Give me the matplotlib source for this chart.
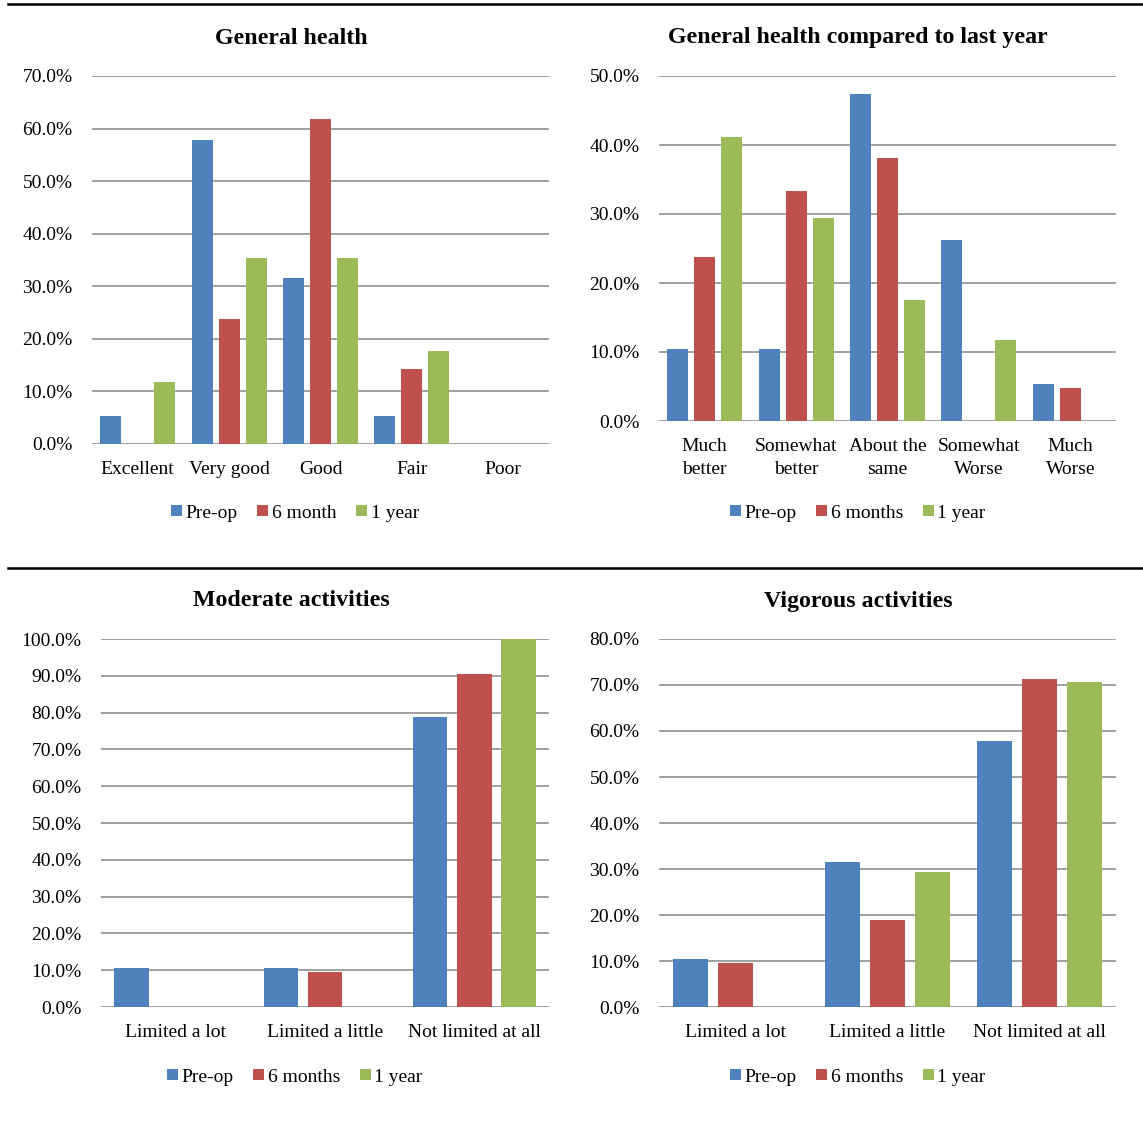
import matplotlib
matplotlib.use("Agg")
import matplotlib.pyplot as plt
from matplotlib.lines import Line2D
from matplotlib.patches import Patch
from matplotlib.ticker import FuncFormatter, MultipleLocator

plt.rcParams["font.family"] = ["Liberation Serif", "DejaVu Serif"]

# Survey responses (% of respondents) at each time point
health_cats = ["Excellent", "Very good", "Good", "Fair", "Poor"]
health_preop = [5.3, 57.9, 31.6, 5.3, 0.0]
health_6m = [0.0, 23.8, 61.9, 14.3, 0.0]
health_1y = [11.8, 35.3, 35.3, 17.6, 0.0]

compare_cats = ["Much\nbetter", "Somewhat\nbetter", "About the\nsame", "Somewhat\nWorse", "Much\nWorse"]
compare_preop = [10.5, 10.5, 47.4, 26.3, 5.3]
compare_6m = [23.8, 33.3, 38.1, 0.0, 4.8]
compare_1y = [41.2, 29.4, 17.6, 11.8, 0.0]

activity_cats = ["Limited a lot", "Limited a little", "Not limited at all"]
moderate_preop = [10.5, 10.5, 78.9]
moderate_6m = [0.0, 9.5, 90.5]
moderate_1y = [0.0, 0.0, 100.0]

vigorous_preop = [10.5, 31.6, 57.9]
vigorous_6m = [9.5, 19.0, 71.4]
vigorous_1y = [0.0, 29.4, 70.6]

COLORS = ["#4F81BD", "#C0504D", "#9BBB59"]
GRID = "#868686"
W, H = 1143, 1127
FS = 14

fig = plt.figure(figsize=(W / 100, H / 100), dpi=100)


def px_axes(left, top, right, bottom):
    return fig.add_axes([left / W, 1 - bottom / H, (right - left) / W, (bottom - top) / H])


def panel(box, title, title_xy, cats, series, ymax, step, labels, legend_xy):
    ax = px_axes(*box)
    n = len(cats)
    for j, vals in enumerate(series):
        xs = [i + (j - 1) * 0.295 for i in range(n)]
        ax.bar(xs, vals, width=0.23, color=COLORS[j], edgecolor="none", zorder=3)
    ax.set_xlim(-0.5, n - 0.5)
    ax.set_ylim(0, ymax)
    ax.yaxis.set_major_locator(MultipleLocator(step))
    ax.yaxis.set_major_formatter(FuncFormatter(lambda v, p: f"{v:.1f}%"))
    ax.set_xticks(range(n))
    ax.set_xticklabels(cats, fontsize=FS, linespacing=1.4)
    ax.tick_params(axis="y", length=0, pad=14, labelsize=FS)
    ax.tick_params(axis="x", length=0, pad=12.5)
    for s in ax.spines.values():
        s.set_visible(False)
    ax.grid(axis="y", color=GRID, linewidth=1.1, zorder=0)
    ax.set_axisbelow(True)
    fig.text(title_xy[0] / W, 1 - title_xy[1] / H, title, ha="center", va="center",
             fontsize=17.2, fontweight="bold")
    handles = [Patch(facecolor=c, edgecolor="none") for c in COLORS]
    fig.legend(handles, labels, loc="center", ncol=3, frameon=False,
               bbox_to_anchor=(legend_xy[0] / W, 1 - legend_xy[1] / H),
               fontsize=FS, handlelength=0.55, handleheight=0.55,
               handletextpad=0.2, columnspacing=1.0)
    return ax


panel((92, 76, 549, 444), "General health", (291, 38), health_cats,
      [health_preop, health_6m, health_1y], 70, 10,
      ["Pre-op", "6 month", "1 year"], (295, 513))
panel((659, 76, 1116, 421), "General health compared to last year", (858, 38), compare_cats,
      [compare_preop, compare_6m, compare_1y], 50, 10,
      ["Pre-op", "6 months", "1 year"], (858, 513))
panel((101, 639, 549, 1007), "Moderate activities", (291, 601), activity_cats,
      [moderate_preop, moderate_6m, moderate_1y], 100, 10,
      ["Pre-op", "6 months", "1 year"], (295, 1077))
panel((659, 639, 1116, 1007), "Vigorous activities", (858, 601), activity_cats,
      [vigorous_preop, vigorous_6m, vigorous_1y], 80, 10,
      ["Pre-op", "6 months", "1 year"], (858, 1077))

# Horizontal rules separating the rows of panels
for y in (4, 568):
    fig.add_artist(Line2D([8 / W, 1.0], [1 - y / H, 1 - y / H], color="black", linewidth=1.8,
                          transform=fig.transFigure))

fig.savefig("out.png", dpi=100, facecolor="white")
